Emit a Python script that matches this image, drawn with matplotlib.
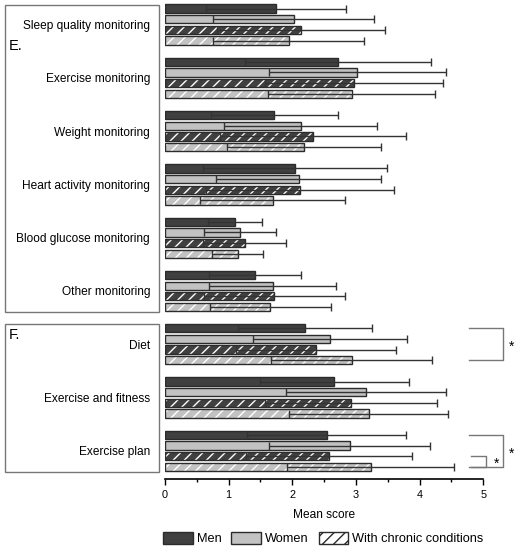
import matplotlib
matplotlib.use("Agg")
import matplotlib.pyplot as plt
from matplotlib.patches import Patch, Rectangle
import numpy as np

plt.rcParams['font.family'] = ['Liberation Sans', 'DejaVu Sans']
plt.rcParams['hatch.linewidth'] = 1.0

categories = ["Sleep quality monitoring", "Exercise monitoring", "Weight monitoring",
              "Heart activity monitoring", "Blood glucose monitoring", "Other monitoring",
              "Diet", "Exercise and fitness", "Exercise plan"]
series = ["Men", "Women", "Men with chronic conditions", "Women with chronic conditions"]

men_mean = [1.74, 2.72, 1.72, 2.04, 1.10, 1.41, 2.20, 2.66, 2.54]
men_sd = [1.10, 1.46, 1.00, 1.45, 0.43, 0.72, 1.05, 1.17, 1.25]
women_mean = [2.02, 3.02, 2.13, 2.10, 1.18, 1.69, 2.59, 3.16, 2.90]
women_sd = [1.27, 1.39, 1.20, 1.30, 0.56, 1.00, 1.21, 1.26, 1.26]
cmen_mean = [2.14, 2.97, 2.32, 2.12, 1.25, 1.72, 2.37, 2.92, 2.58]
cmen_sd = [1.32, 1.40, 1.46, 1.48, 0.65, 1.10, 1.26, 1.35, 1.30]
cwomen_mean = [1.94, 2.93, 2.19, 1.69, 1.14, 1.65, 2.93, 3.20, 3.23]
cwomen_sd = [1.19, 1.31, 1.21, 1.14, 0.40, 0.95, 1.27, 1.25, 1.31]

means = [men_mean, women_mean, cmen_mean, cwomen_mean]
sds = [men_sd, women_sd, cmen_sd, cwomen_sd]
face = ["#404040", "#c2c2c2", "#404040", "#c2c2c2"]
hatched = [False, False, True, True]

# significance brackets: (category index, first series, last series, x left, x right, x star)
brackets = [(6, 0, 3, 4.78, 5.31, 5.40),
            (8, 0, 3, 4.78, 5.31, 5.40),
            (8, 2, 3, 4.80, 5.04, 5.16)]

W, H = 518, 550
fig = plt.figure(figsize=(W / 100, H / 100), dpi=100)
ax = fig.add_axes([165 / W, 1 - 478.8 / H, 318.3 / W, 478.8 / H])

group_pitch = 5
bar_h = 0.78
edge = "#2b2b2b"
for s in range(4):
    ys = np.arange(len(categories)) * group_pitch + s
    if hatched[s]:
        ax.barh(ys, means[s], height=bar_h, color=face[s], edgecolor="white",
                hatch="///", linewidth=0, zorder=2)
        ax.barh(ys, means[s], height=bar_h, fill=False, edgecolor=edge,
                linewidth=1.0, zorder=3)
    else:
        ax.barh(ys, means[s], height=bar_h, color=face[s], edgecolor=edge,
                linewidth=1.0, zorder=2)
    ax.errorbar(means[s], ys, xerr=sds[s], fmt="none", ecolor="#333333",
                elinewidth=1.0, capsize=2.6, capthick=1.0, zorder=4)

for cat, s0, s1, xl, xr, xs in brackets:
    y0 = cat * group_pitch + s0
    y1 = cat * group_pitch + s1
    ax.plot([xl, xr, xr, xl], [y0, y0, y1, y1], color="#777777", lw=1.0,
            clip_on=False, zorder=5)
    ax.text(xs, (y0 + y1) / 2 + 0.25, "*", ha="left", va="center", fontsize=10,
            clip_on=False)

ax.set_xlim(0, 5)
ax.set_ylim(44.12, -0.8)
ax.set_xticks([0, 1, 2, 3, 4, 5])
ax.set_xticks(np.arange(0.5, 5, 1), minor=True)
ax.tick_params(axis="x", which="major", length=4.3, width=1.0, pad=3.5,
               labelsize=7.8, color="black")
ax.tick_params(axis="x", which="minor", length=2.3, width=1.0, color="black")
ax.set_yticks(np.arange(len(categories)) * group_pitch + 1.5)
ax.set_yticklabels(categories)
ax.tick_params(axis="y", length=0, pad=10.8, labelsize=8.6)
for sp in ["top", "right", "left"]:
    ax.spines[sp].set_visible(False)
ax.spines["bottom"].set_linewidth(1.2)
ax.set_xlabel("Mean score", fontsize=8.6, labelpad=6.5)

# label boxes
for top, bot in [(5, 312.3), (324.3, 471.7)]:
    fig.patches.append(Rectangle((5 / W, 1 - bot / H), 153.5 / W, (bot - top) / H,
                                 transform=fig.transFigure, fill=False,
                                 edgecolor="#777777", linewidth=1.0))
fig.text(9 / W, 1 - 46 / H, "E.", fontsize=10.5, ha="left", va="center")
fig.text(9 / W, 1 - 335 / H, "F.", fontsize=10.5, ha="left", va="center")

handles = [Patch(facecolor="#404040", edgecolor=edge, linewidth=1.0),
           Patch(facecolor="#c2c2c2", edgecolor=edge, linewidth=1.0),
           Patch(facecolor="white", edgecolor=edge, hatch="///", linewidth=1.0)]
fig.legend(handles, ["Men", "Women", "With chronic conditions"], ncol=3,
           loc="center left", bbox_to_anchor=(163.3 / W, 1 - 538.5 / H),
           frameon=False, fontsize=9.2, borderpad=0, borderaxespad=0,
           handlelength=2.3, handleheight=1.15, handletextpad=0.3,
           columnspacing=0.8)

fig.savefig("out.png", dpi=100)
